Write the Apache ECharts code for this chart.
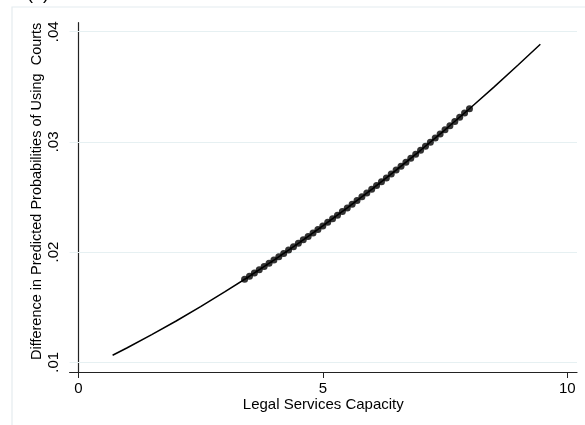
<!DOCTYPE html>
<html>
<head>
<meta charset="utf-8">
<script src="https://cdn.jsdelivr.net/npm/echarts@6/dist/echarts.min.js"></script>
<style>html,body{margin:0;padding:0;background:#fff;}#c{width:585px;height:425px;}</style>
</head>
<body>
<div id="c"></div>
<script>
const xTicks = [0, 5, 10];
const yTicks = [0.01, 0.02, 0.03, 0.04];
const yTickLabels = ['.01', '.02', '.03', '.04'];
const xTitle = 'Legal Services Capacity';
const yTitle = 'Difference in Predicted Probabilities of Using  Courts';

const lineX = [0.7, 1, 1.5, 2, 2.5, 3, 3.5, 4, 4.5, 5, 5.5, 6, 6.5, 7, 7.5, 8, 8.5, 9, 9.45];
const lineY = [0.01064, 0.01132, 0.01251, 0.01375, 0.01505, 0.01641, 0.01781, 0.01928, 0.02080, 0.02238, 0.02401, 0.02570, 0.02744, 0.02924, 0.03110, 0.03301, 0.03497, 0.03700, 0.03886];

const dotX = [3.4, 3.5, 3.6, 3.7, 3.8, 3.9, 4.0, 4.1, 4.2, 4.3, 4.4, 4.5, 4.6, 4.7, 4.8, 4.9, 5.0, 5.1, 5.2, 5.3, 5.4, 5.5, 5.6, 5.7, 5.8, 5.9, 6.0, 6.1, 6.2, 6.3, 6.4, 6.5, 6.6, 6.7, 6.8, 6.9, 7.0, 7.1, 7.2, 7.3, 7.4, 7.5, 7.6, 7.7, 7.8, 7.9, 8.0];
const dotY = [0.017528, 0.017814, 0.018103, 0.018394, 0.018687, 0.018982, 0.019279, 0.019579, 0.019881, 0.020185, 0.020492, 0.020800, 0.021111, 0.021424, 0.021740, 0.022057, 0.022377, 0.022699, 0.023023, 0.023350, 0.023678, 0.024009, 0.024343, 0.024678, 0.025016, 0.025355, 0.025697, 0.026042, 0.026388, 0.026737, 0.027088, 0.027441, 0.027797, 0.028154, 0.028514, 0.028876, 0.029241, 0.029607, 0.029976, 0.030347, 0.030720, 0.031096, 0.031474, 0.031853, 0.032236, 0.032620, 0.033007];

const chart = echarts.init(document.getElementById('c'), null, {renderer: 'canvas'});
const font = 'Liberation Sans, Arial, sans-serif';
const axisColor = '#222';

chart.setOption({
  animation: false,
  backgroundColor: '#fff',
  graphic: [
    {type: 'rect', shape: {x: 12, y: 7, width: 620, height: 460}, style: {fill: 'none', stroke: '#e4ecef', lineWidth: 1.2}, z: -10, silent: true},
    {type: 'text', x: 27, y: -15, style: {text: '(a)', font: '18px ' + font, fill: '#000'}, silent: true}
  ],
  grid: {left: 69.6, right: 8, top: 22.7, bottom: 53, containLabel: false},
  xAxis: {
    type: 'value', min: -0.18, max: 10.2,
    name: xTitle, nameLocation: 'middle', nameGap: 25, nameMoveOverlap: false,
    nameTextStyle: {fontFamily: font, fontSize: 15, color: '#000'},
    axisLine: {show: true, lineStyle: {color: axisColor, width: 1.2}},
    axisTick: {show: true, length: 6, customValues: xTicks, lineStyle: {color: axisColor}},
    axisLabel: {customValues: xTicks, margin: 9, fontFamily: font, fontSize: 15, color: '#000'},
    splitLine: {show: false}
  },
  yAxis: {
    type: 'value', min: 0.00912, max: 0.04082,
    name: yTitle, nameLocation: 'middle', nameGap: 25, nameMoveOverlap: false,
    nameTextStyle: {fontFamily: font, fontSize: 14.5, color: '#000', padding: [0, 0, 0, 12]},
    axisLine: {show: true, lineStyle: {color: axisColor, width: 1.2}},
    axisTick: {show: true, length: 6, customValues: yTicks, lineStyle: {color: axisColor}},
    axisLabel: {customValues: yTicks, rotate: 90, margin: 8, fontFamily: font, fontSize: 15, color: '#000',
      formatter: v => { const i = yTicks.findIndex(t => Math.abs(t - v) < 1e-9); return i >= 0 ? yTickLabels[i] : ''; }},
    splitLine: {show: false}
  },
  series: [
    {
      type: 'line', data: lineX.map((x, i) => [x, lineY[i]]),
      showSymbol: false, symbol: 'none', smooth: false,
      lineStyle: {color: '#000', width: 1.5}, z: 3,
      markLine: {
        silent: true, symbol: ['none', 'none'], label: {show: false},
        lineStyle: {color: '#e6f0f2', width: 1.2, type: 'solid'},
        data: yTicks.map(v => ({yAxis: v})), z: 1
      }
    },
    {
      type: 'scatter', data: dotX.map((x, i) => [x, dotY[i]]),
      symbol: 'circle', symbolSize: 7, itemStyle: {color: '#000'}, z: 4
    }
  ]
});
</script>
</body>
</html>
